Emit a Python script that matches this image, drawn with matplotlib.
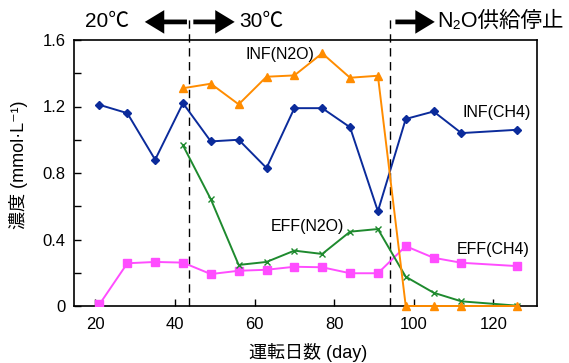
import numpy as np
import matplotlib
matplotlib.use('Agg')
import matplotlib.pyplot as plt
from matplotlib.ticker import MultipleLocator

plt.rcParams['font.family'] = ['Liberation Sans', 'Noto Sans CJK JP', 'DejaVu Sans']

# operating days
days = [21, 28, 35, 42, 49, 56, 63, 70, 77, 84, 91, 98, 105, 112, 126]
days_n2o = days[3:]

inf_ch4 = [1.21, 1.16, 0.88, 1.22, 0.99, 1.00, 0.83, 1.19, 1.19, 1.075, 0.57, 1.125, 1.17, 1.04, 1.06]
eff_ch4 = [0.01, 0.257, 0.265, 0.261, 0.192, 0.212, 0.218, 0.236, 0.233, 0.197, 0.197, 0.36, 0.29, 0.26, 0.24]
inf_n2o = [1.31, 1.337, 1.213, 1.379, 1.387, 1.52, 1.373, 1.385, 0, 0, 0, 0]
eff_n2o = [0.966, 0.642, 0.247, 0.265, 0.333, 0.313, 0.447, 0.463, 0.176, 0.08, 0.028, 0.002]

phase_lines = [43.5, 94]

fig = plt.figure(figsize=(5.69, 3.63), dpi=100)
ax = fig.add_axes([74/569, 57/363, 463/569, 266/363])

ax.plot(days, inf_ch4, color='#0b2b9b', marker='D', ms=4, lw=1.4, zorder=3)
ax.plot(days, eff_ch4, color='#ff4dff', marker='s', ms=5.5, lw=1.4, zorder=3)
ax.plot(days_n2o, eff_n2o, color='#1e8a2e', marker='x', ms=5, mew=1, lw=1.4, zorder=3)
ax.plot(days_n2o, inf_n2o, color='#ff8c00', marker='^', ms=6, lw=1.4, zorder=4,
        clip_on=False)

for d in phase_lines:
    ax.axvline(d, ymin=0, ymax=1.094, color='k', ls=(0, (6, 4)), lw=1, clip_on=False, zorder=2)

ax.set_xlim(14.6, 131)
ax.set_ylim(0, 1.6)
ax.xaxis.set_major_locator(MultipleLocator(20))
ax.yaxis.set_minor_locator(MultipleLocator(0.2))
ax.set_yticks([0, 0.4, 0.8, 1.2, 1.6])
ax.set_yticklabels(['0', '0.4', '0.8', '1.2', '1.6'])
ax.tick_params(which='both', direction='in', labelsize=12, top=False, right=False)
ax.tick_params(which='both', length=5, width=1)
ax.tick_params(axis='x', pad=8)
ax.tick_params(axis='y', pad=6)
for s in ax.spines.values():
    s.set_linewidth(1.2)

ax.set_xlabel('運転日数 (day)', fontsize=13)
ax.xaxis.label.set_va('center')
ax.xaxis.set_label_coords(0.505, -0.173)
ax.set_ylabel('濃度 (mmol·L⁻¹)', fontsize=13)
ax.yaxis.label.set_va('center')
ax.yaxis.set_label_coords(-0.12, 0.53)

ax.text(66.3, 1.51, 'INF(N2O)', fontsize=11.5, ha='center', va='center')
ax.text(120.8, 1.161, 'INF(CH4)', fontsize=11.5, ha='center', va='center')
ax.text(73.3, 0.481, 'EFF(N2O)', fontsize=11.5, ha='center', va='center')
ax.text(119.9, 0.337, 'EFF(CH4)', fontsize=11.5, ha='center', va='center')

top = ('data', 'axes fraction')
ty = 1.068
arrow = dict(arrowstyle='simple,head_length=1.4,head_width=1.7,tail_width=0.34',
             lw=0, fc='k', ec='k', mutation_scale=10, shrinkA=0, shrinkB=0)
ax.annotate('', xy=(32.4, ty), xytext=(43.0, ty), xycoords=top, textcoords=top, arrowprops=arrow)
ax.annotate('', xy=(55.0, ty), xytext=(44.6, ty), xycoords=top, textcoords=top, arrowprops=arrow)
ax.annotate('', xy=(105.3, ty), xytext=(95.4, ty), xycoords=top, textcoords=top, arrowprops=arrow)
ax.text(22.8, ty, '20℃', transform=ax.get_xaxis_transform(), fontsize=15, ha='center', va='center')
ax.text(61.8, ty, '30℃', transform=ax.get_xaxis_transform(), fontsize=15, ha='center', va='center')
ax.text(105.8, ty, 'N₂O供給停止', transform=ax.get_xaxis_transform(), fontsize=15.5, ha='left', va='center')

fig.savefig('out.png', dpi=100)
